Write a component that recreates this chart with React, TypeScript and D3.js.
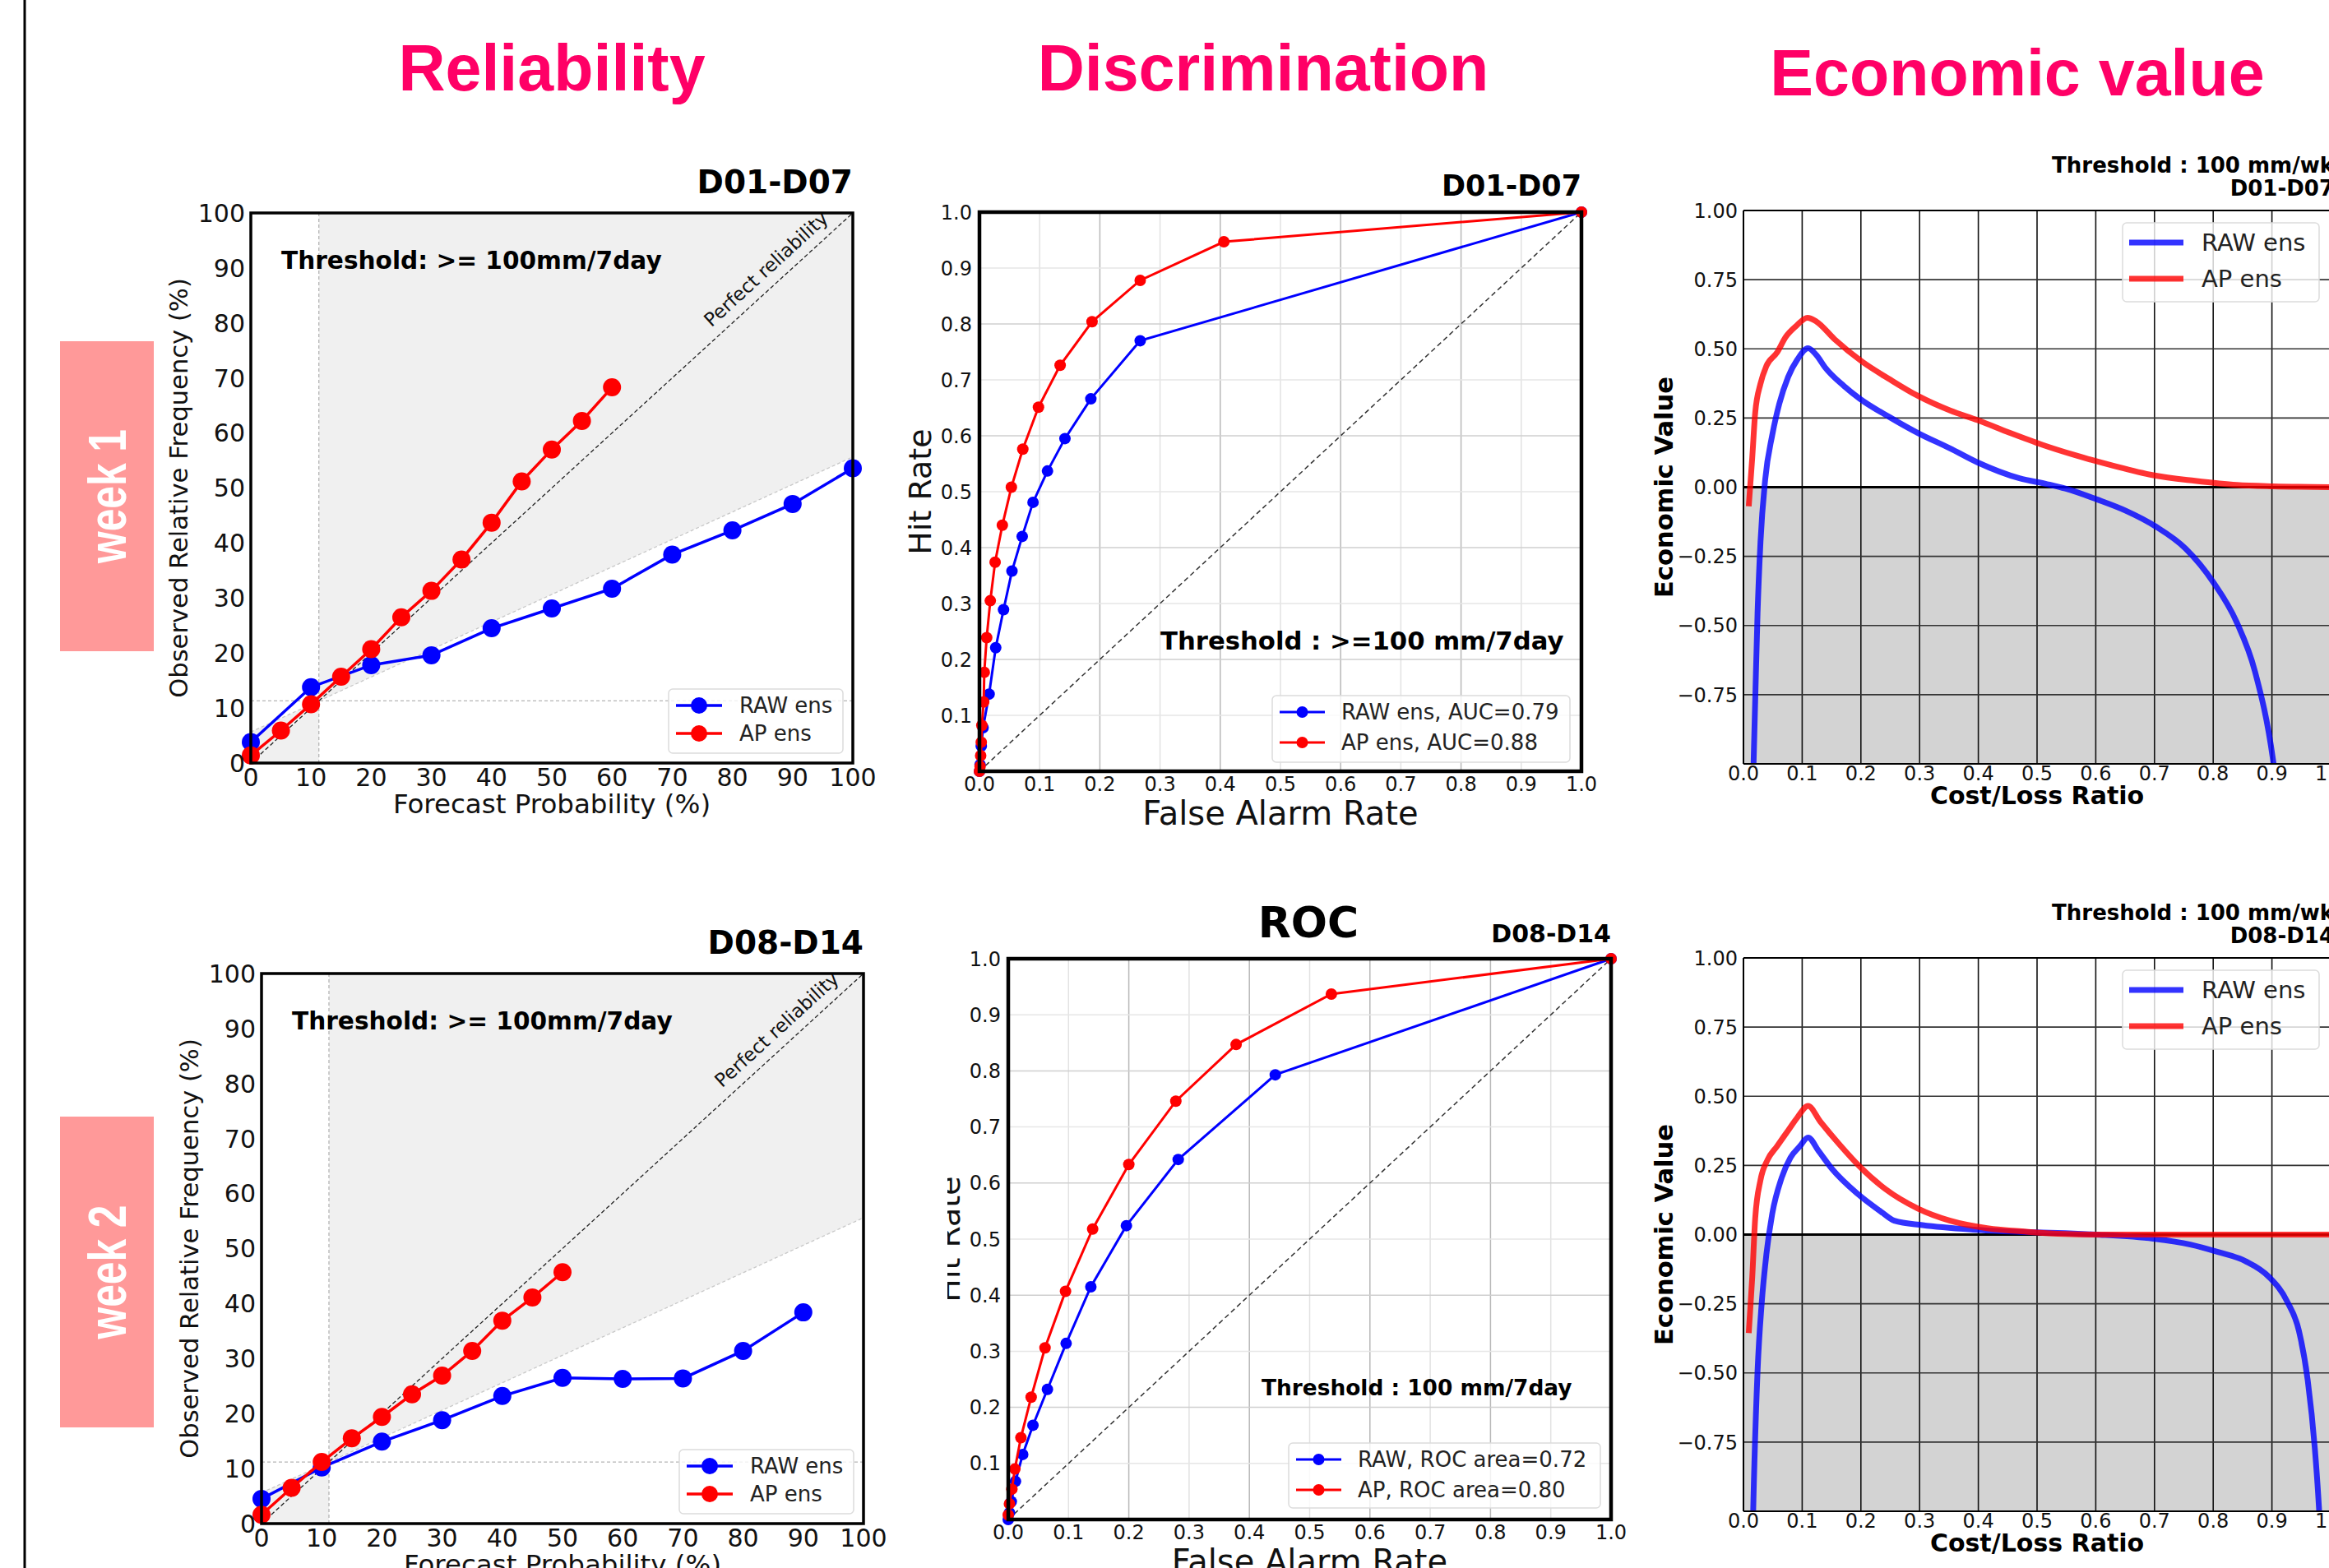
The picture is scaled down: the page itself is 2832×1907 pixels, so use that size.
import React from 'react';
import * as d3 from 'd3';

// ------------------------------------------------------------
// data
// ------------------------------------------------------------
// reliability diagrams : forecast probability (%) -> observed relative frequency (%)
const relW1RawP = [0, 10, 20, 30, 40, 50, 60, 70, 80, 90, 100];
const relW1RawO = [3.8, 13.8, 17.8, 19.6, 24.5, 28.1, 31.7, 37.9, 42.3, 47.1, 53.6];
const relW1ApP = [0, 5, 10, 15, 20, 25, 30, 35, 40, 45, 50, 55, 60];
const relW1ApO = [1.4, 5.9, 10.7, 15.7, 20.7, 26.5, 31.3, 37.0, 43.7, 51.2, 57.0, 62.2, 68.3];
const relW2RawP = [0, 10, 20, 30, 40, 50, 60, 70, 80, 90];
const relW2RawO = [4.5, 10.2, 14.9, 18.8, 23.2, 26.5, 26.3, 26.4, 31.4, 38.4];
const relW2ApP = [0, 5, 10, 15, 20, 25, 30, 35, 40, 45, 50];
const relW2ApO = [1.6, 6.5, 11.2, 15.5, 19.4, 23.5, 26.9, 31.4, 36.9, 41.1, 45.7];
const climW1 = 11.3;
const climW2 = 11.2;

// ROC : false alarm rate -> hit rate
const rocW1RawF = [0, 0.001, 0.003, 0.006, 0.016, 0.027, 0.040, 0.054, 0.071, 0.089, 0.113, 0.142, 0.185, 0.267, 1];
const rocW1RawH = [0, 0.012, 0.045, 0.078, 0.138, 0.221, 0.289, 0.358, 0.420, 0.481, 0.537, 0.595, 0.666, 0.770, 1];
const rocW1ApF = [0, 0.001, 0.002, 0.003, 0.004, 0.007, 0.008, 0.012, 0.018, 0.026, 0.038, 0.053, 0.072, 0.098, 0.134, 0.187, 0.267, 0.406, 1];
const rocW1ApH = [0, 0.009, 0.028, 0.052, 0.082, 0.124, 0.177, 0.239, 0.305, 0.374, 0.440, 0.508, 0.576, 0.651, 0.726, 0.804, 0.878, 0.947, 1];
const rocW2RawF = [0, 0.002, 0.005, 0.012, 0.024, 0.041, 0.065, 0.096, 0.137, 0.196, 0.282, 0.443, 1];
const rocW2RawH = [0, 0.012, 0.032, 0.068, 0.116, 0.168, 0.232, 0.314, 0.415, 0.524, 0.642, 0.793, 1];
const rocW2ApF = [0, 0.002, 0.006, 0.011, 0.021, 0.038, 0.061, 0.095, 0.140, 0.200, 0.278, 0.378, 0.536, 1];
const rocW2ApH = [0.008, 0.028, 0.054, 0.090, 0.146, 0.218, 0.306, 0.407, 0.518, 0.633, 0.746, 0.847, 0.937, 1];

// economic value : cost/loss ratio -> value
const evW1RawC = [0.016, 0.0205, 0.024, 0.029, 0.037, 0.049, 0.061, 0.076, 0.092, 0.110, 0.124, 0.139, 0.171, 0.198, 0.249, 0.297, 0.352, 0.399, 0.470, 0.517, 0.548, 0.603, 0.651, 0.702, 0.753, 0.800, 0.840, 0.871, 0.902, 0.906];
const evW1RawV = [-1.1, -0.73, -0.456, -0.198, 0.027, 0.188, 0.301, 0.398, 0.462, 0.502, 0.478, 0.433, 0.366, 0.320, 0.253, 0.196, 0.140, 0.089, 0.032, 0.011, -0.005, -0.045, -0.085, -0.142, -0.222, -0.343, -0.488, -0.665, -0.987, -1.05];
const evW1ApC = [0.009, 0.015, 0.020, 0.029, 0.039, 0.057, 0.072, 0.090, 0.109, 0.124, 0.155, 0.202, 0.249, 0.297, 0.352, 0.399, 0.454, 0.509, 0.564, 0.627, 0.698, 0.769, 0.840, 0.902, 1.0];
const evW1ApV = [-0.069, 0.108, 0.269, 0.374, 0.438, 0.486, 0.543, 0.583, 0.612, 0.599, 0.535, 0.454, 0.390, 0.330, 0.277, 0.242, 0.196, 0.153, 0.116, 0.079, 0.043, 0.023, 0.008, 0.003, 0.0];
const evW2RawC = [0.0155, 0.017, 0.024, 0.031, 0.039, 0.049, 0.065, 0.080, 0.096, 0.110, 0.128, 0.151, 0.194, 0.234, 0.257, 0.305, 0.391, 0.470, 0.548, 0.600, 0.698, 0.761, 0.808, 0.855, 0.895, 0.926, 0.946, 0.961, 0.973, 0.980, 0.983];
const evW2RawV = [-1.1, -0.96, -0.494, -0.250, -0.072, 0.075, 0.205, 0.278, 0.319, 0.351, 0.302, 0.237, 0.148, 0.083, 0.050, 0.034, 0.018, 0.010, 0.005, 0.0, -0.015, -0.036, -0.063, -0.096, -0.153, -0.242, -0.348, -0.527, -0.771, -0.982, -1.1];
const evW2ApC = [0.009, 0.015, 0.020, 0.029, 0.041, 0.057, 0.076, 0.092, 0.110, 0.131, 0.163, 0.198, 0.242, 0.297, 0.352, 0.415, 0.485, 0.548, 0.596, 1.0];
const evW2ApV = [-0.356, -0.153, 0.059, 0.197, 0.270, 0.319, 0.376, 0.424, 0.465, 0.408, 0.327, 0.246, 0.164, 0.094, 0.050, 0.023, 0.010, 0.002, 0.0, 0.0];

const relTicks = [0, 10, 20, 30, 40, 50, 60, 70, 80, 90, 100];
const rocXTicks = [0, 0.1, 0.2, 0.3, 0.4, 0.5, 0.6, 0.7, 0.8, 0.9, 1.0];
const rocYTicks = [0.1, 0.2, 0.3, 0.4, 0.5, 0.6, 0.7, 0.8, 0.9, 1.0];
const evXTicks = [0, 0.1, 0.2, 0.3, 0.4, 0.5, 0.6, 0.7, 0.8, 0.9, 1.0];
const evYTicks = [-0.75, -0.5, -0.25, 0, 0.25, 0.5, 0.75, 1.0];

const DV = '"DejaVu Sans", Verdana, sans-serif';
const ARIAL = '"Liberation Sans", Arial, sans-serif';
const BLUE = '#0000ff';
const RED = '#ff0000';
const PINK = '#ff0066';

const zip = (a: number[], b: number[]) => a.map((v, i) => [v, b[i]] as [number, number]);
const minus = (s: string) => s.replace('-', '\u2212');

// ------------------------------------------------------------
// legend with marker lines
// ------------------------------------------------------------
function Legend({ box, rows, labels, colors, lineX, markerR, textX, fontSize, lineW, alpha }) {
  const [lx0, lx1, ly0, ly1] = box;
  return (
    <g>
      <rect x={lx0} y={ly0} width={lx1 - lx0} height={ly1 - ly0} rx={5}
        fill="white" fillOpacity={alpha} stroke="#dcdcdc" strokeWidth={1.5} />
      {labels.map((lab, i) => (
        <g key={lab}>
          <line x1={lineX[0]} x2={lineX[1]} y1={rows[i]} y2={rows[i]} stroke={colors[i]} strokeWidth={lineW} />
          {markerR > 0 && <circle cx={(lineX[0] + lineX[1]) / 2} cy={rows[i]} r={markerR} fill={colors[i]} />}
          <text x={textX} y={rows[i]} dy="0.36em" fontFamily={DV} fontSize={fontSize} fill="#222">{lab}</text>
        </g>
      ))}
    </g>
  );
}

// ------------------------------------------------------------
// reliability diagram
// ------------------------------------------------------------
function Reliability({ box, raw, ap, clim, title }) {
  const [x0, x1, y0, y1] = box;
  const x = d3.scaleLinear().domain([0, 100]).range([x0, x1]);
  const y = d3.scaleLinear().domain([0, 100]).range([y1, y0]);
  const noSkill = (p: number) => (p + clim) / 2;
  const line = d3.line<[number, number]>().x(d => x(d[0])).y(d => y(d[1]));
  const skill = `M${x(clim)},${y(100)}L${x(100)},${y(100)}L${x(100)},${y(noSkill(100))}L${x(clim)},${y(clim)}Z` +
    `M${x(0)},${y(0)}L${x(clim)},${y(0)}L${x(clim)},${y(clim)}L${x(0)},${y(noSkill(0))}Z`;
  const ang = Math.atan2(y(0) - y(100), x(100) - x(0)) * 180 / Math.PI;
  const th = ang * Math.PI / 180;
  // label centre sits ~21px off the diagonal, near its upper end
  const tp = [x(87.5) - 21 * Math.sin(th), y(87.5) - 21 * Math.cos(th)];
  return (
    <g>
      <path d={skill} fill="#f0f0f0" />
      <line x1={x(clim)} x2={x(clim)} y1={y(0)} y2={y(100)} stroke="#b5b5b5" strokeWidth={1.3} strokeDasharray="4,3" />
      <line x1={x(0)} x2={x(100)} y1={y(clim)} y2={y(clim)} stroke="#b5b5b5" strokeWidth={1.3} strokeDasharray="4,3" />
      <line x1={x(0)} x2={x(100)} y1={y(noSkill(0))} y2={y(noSkill(100))} stroke="#c8c8c8" strokeWidth={1.3} strokeDasharray="4,3" />
      <line x1={x(0)} x2={x(100)} y1={y(0)} y2={y(100)} stroke="#222" strokeWidth={1.3} strokeDasharray="5,3" />
      <text transform={`translate(${tp[0]},${tp[1]}) rotate(${-ang})`} textAnchor="middle" dy="0.35em"
        fontFamily={DV} fontSize={23} fill="#111">Perfect reliability</text>
      <path d={line(raw)} fill="none" stroke={BLUE} strokeWidth={3.5} />
      {raw.map((d, i) => <circle key={'r' + i} cx={x(d[0])} cy={y(d[1])} r={11} fill={BLUE} />)}
      <path d={line(ap)} fill="none" stroke={RED} strokeWidth={3.5} />
      {ap.map((d, i) => <circle key={'a' + i} cx={x(d[0])} cy={y(d[1])} r={11} fill={RED} />)}
      <rect x={x0} y={y0} width={x1 - x0} height={y1 - y0} fill="none" stroke="#000" strokeWidth={3.5} />
      {relTicks.map(t => (
        <text key={'y' + t} x={x0 - 7} y={y(t)} dy="0.36em" textAnchor="end" fontFamily={DV} fontSize={30} fill="#111">{t}</text>
      ))}
      {relTicks.map(t => (
        <text key={'x' + t} x={x(t)} y={y1 + 28} textAnchor="middle" fontFamily={DV} fontSize={30} fill="#111">{t}</text>
      ))}
      <text x={(x0 + x1) / 2} y={y1 + 61} textAnchor="middle" fontFamily={DV} fontSize={32.5} fill="#111">Forecast Probability (%)</text>
      <text transform={`translate(${x0 - 77},${(y0 + y1) / 2}) rotate(-90)`} textAnchor="middle"
        fontFamily={DV} fontSize={30.6} fill="#111">Observed Relative Frequency (%)</text>
      <text x={x0 + 37} y={y0 + 68} fontFamily={DV} fontWeight="bold" fontSize={29.6} fill="#000">Threshold: &gt;= 100mm/7day</text>
      <text x={x1} y={y0 - 24} textAnchor="end" fontFamily={DV} fontWeight="bold" fontSize={39} fill="#000">{title}</text>
      <Legend box={[x1 - 224, x1 - 12, y1 - 90, y1 - 12]} rows={[y1 - 70, y1 - 36]} labels={['RAW ens', 'AP ens']}
        colors={[BLUE, RED]} lineX={[x1 - 215, x1 - 159]} markerR={10} textX={x1 - 138} fontSize={26} lineW={3.5} alpha={0.8} />
    </g>
  );
}

// ------------------------------------------------------------
// ROC diagram
// ------------------------------------------------------------
function Roc({ box, raw, ap, title, titleSize, threshold, thX, thY, thSize, legendBox, legendLabels, yLabelClip }) {
  const [x0, x1, y0, y1] = box;
  const x = d3.scaleLinear().domain([0, 1]).range([x0, x1]);
  const y = d3.scaleLinear().domain([0, 1]).range([y1, y0]);
  const line = d3.line<[number, number]>().x(d => x(d[0])).y(d => y(d[1]));
  const [lx0, lx1, ly0, ly1] = legendBox;
  const clipId = 'hr' + Math.round(y0);
  return (
    <g>
      {rocXTicks.map(t => {
        const major = Math.round(t * 10) % 2 === 0;
        return <line key={'gx' + t} x1={x(t)} x2={x(t)} y1={y0} y2={y1} stroke={major ? '#b8b8b8' : '#e2e2e2'} strokeWidth={1.5} />;
      })}
      {rocXTicks.map(t => {
        const major = Math.round(t * 10) % 2 === 0;
        return <line key={'gy' + t} x1={x0} x2={x1} y1={y(t)} y2={y(t)} stroke={major ? '#cfcfcf' : '#e6e6e6'} strokeWidth={1.5} />;
      })}
      <line x1={x(0)} x2={x(1)} y1={y(0)} y2={y(1)} stroke="#333" strokeWidth={1.5} strokeDasharray="6,4" />
      <path d={line(raw)} fill="none" stroke={BLUE} strokeWidth={3} />
      {raw.map((d, i) => <circle key={'r' + i} cx={x(d[0])} cy={y(d[1])} r={7} fill={BLUE} />)}
      <path d={line(ap)} fill="none" stroke={RED} strokeWidth={3} />
      {ap.map((d, i) => <circle key={'a' + i} cx={x(d[0])} cy={y(d[1])} r={7} fill={RED} />)}
      <rect x={x0} y={y0} width={x1 - x0} height={y1 - y0} fill="none" stroke="#000" strokeWidth={4.5} />
      {rocYTicks.map(t => (
        <text key={'y' + t} x={x0 - 9} y={y(t)} dy="0.36em" textAnchor="end" fontFamily={DV} fontSize={24} fill="#111">{t.toFixed(1)}</text>
      ))}
      {rocXTicks.map(t => (
        <text key={'x' + t} x={x(t)} y={y1 + 24} textAnchor="middle" fontFamily={DV} fontSize={24} fill="#111">{t.toFixed(1)}</text>
      ))}
      <text x={(x0 + x1) / 2} y={y1 + 65} textAnchor="middle" fontFamily={DV} fontSize={40} fill="#111">False Alarm Rate</text>
      {yLabelClip && (
        <defs><clipPath id={clipId}><rect x={yLabelClip} y={y0} width={x0 - yLabelClip} height={y1 - y0} /></clipPath></defs>
      )}
      <g clipPath={yLabelClip ? `url(#${clipId})` : undefined}>
        <text transform={`translate(${x0 - 59},${(y0 + y1) / 2}) rotate(-90)`} textAnchor="middle"
          fontFamily={DV} fontSize={38} fill="#111">Hit Rate</text>
      </g>
      <text x={thX} y={thY} fontFamily={DV} fontWeight="bold" fontSize={thSize} fill="#000">{threshold}</text>
      <text x={x1} y={y0 - 20} textAnchor="end" fontFamily={DV} fontWeight="bold" fontSize={titleSize} fill="#000">{title}</text>
      <Legend box={legendBox} rows={[ly0 + 20, ly0 + 57]} labels={legendLabels} colors={[BLUE, RED]}
        lineX={[lx0 + 9, lx0 + 64]} markerR={7} textX={lx0 + 84} fontSize={26} lineW={3} alpha={0.8} />
    </g>
  );
}

// ------------------------------------------------------------
// economic value diagram
// ------------------------------------------------------------
function EconValue({ box, raw, ap, title }) {
  const [x0, x1, y0, y1] = box;
  const x = d3.scaleLinear().domain([0, 1]).range([x0, x1]);
  const y = d3.scaleLinear().domain([-1, 1]).range([y1, y0]);
  const line = d3.line<[number, number]>().x(d => x(d[0])).y(d => y(d[1])).curve(d3.curveMonotoneX);
  const clipId = 'ev' + Math.round(y0);
  return (
    <g>
      <defs><clipPath id={clipId}><rect x={x0} y={y0} width={x1 - x0} height={y1 - y0} /></clipPath></defs>
      <rect x={x0} y={y(0)} width={x1 - x0} height={y1 - y(0)} fill="#d3d3d3" />
      {evXTicks.map(t => <line key={'gx' + t} x1={x(t)} x2={x(t)} y1={y0} y2={y1} stroke="#111" strokeWidth={1.6} />)}
      {evYTicks.filter(t => t !== 0).map(t => <line key={'gy' + t} x1={x0} x2={x1} y1={y(t)} y2={y(t)} stroke="#333" strokeWidth={1.6} />)}
      <line x1={x0} x2={x1} y1={y(0)} y2={y(0)} stroke="#000" strokeWidth={3} />
      <g clipPath={`url(#${clipId})`}>
        <path d={line(raw)} fill="none" stroke={BLUE} strokeOpacity={0.8} strokeWidth={7} strokeLinejoin="round" />
        <path d={line(ap)} fill="none" stroke={RED} strokeOpacity={0.8} strokeWidth={7} strokeLinejoin="round" />
      </g>
      <line x1={x0} x2={x1} y1={y0} y2={y0} stroke="#000" strokeWidth={2} />
      <line x1={x0} x2={x1} y1={y1} y2={y1} stroke="#000" strokeWidth={2} />
      <line x1={x0} x2={x0} y1={y0} y2={y1} stroke="#000" strokeWidth={2} />
      {evYTicks.map(t => (
        <text key={'y' + t} x={x0 - 7} y={y(t)} dy="0.36em" textAnchor="end" fontFamily={DV} fontSize={24} fill="#111">{minus(t.toFixed(2))}</text>
      ))}
      {evXTicks.map(t => (
        <text key={'x' + t} x={x(t)} y={y1 + 20} textAnchor="middle" fontFamily={DV} fontSize={24} fill="#111">{t.toFixed(1)}</text>
      ))}
      <text x={(x0 + x1) / 2} y={y1 + 49} textAnchor="middle" fontFamily={DV} fontWeight="bold" fontSize={30} fill="#000">Cost/Loss Ratio</text>
      <text transform={`translate(${x0 - 86},${(y0 + y1) / 2}) rotate(-90)`} textAnchor="middle"
        fontFamily={DV} fontWeight="bold" fontSize={30.5} fill="#000">Economic Value</text>
      <text x={x1 + 4} y={y0 - 46} textAnchor="end" fontFamily={DV} fontWeight="bold" fontSize={26} fill="#000">Threshold : 100 mm/wk</text>
      <text x={x1 + 4} y={y0 - 18} textAnchor="end" fontFamily={DV} fontWeight="bold" fontSize={26} fill="#000">{title}</text>
      <Legend box={[x0 + 461, x0 + 700, y0 + 15, y0 + 111]} rows={[y0 + 39, y0 + 83]} labels={['RAW ens', 'AP ens']}
        colors={['rgba(0,0,255,0.8)', 'rgba(255,0,0,0.8)']} lineX={[x0 + 469, x0 + 535]} markerR={0} textX={x0 + 557}
        fontSize={29} lineW={7} alpha={0.8} />
    </g>
  );
}

function WeekTag({ top, bottom, label }) {
  const cy = (top + bottom) / 2;
  return (
    <g>
      <rect x={73} y={top} width={114} height={bottom - top} fill="#ff9999" />
      <text transform={`translate(130,${cy}) rotate(-90)`} textAnchor="middle" dy="0.36em"
        fontFamily={ARIAL} fontWeight="bold" fontSize={64} fill="#fff"
        textLength={163} lengthAdjust="spacingAndGlyphs">{label}</text>
    </g>
  );
}

export default function App() {
  return (
    <svg width={2832} height={1907} style={{ position: 'absolute', left: 0, top: 0, background: '#fff' }}>
      <rect x={0} y={0} width={2832} height={1907} fill="#fff" />
      <line x1={30} x2={30} y1={0} y2={1907} stroke="#000" strokeWidth={3} />

      <text x={671} y={110} textAnchor="middle" fontFamily={ARIAL} fontWeight="bold" fontSize={79} fill={PINK}>Reliability</text>
      <text x={1536} y={110} textAnchor="middle" fontFamily={ARIAL} fontWeight="bold" fontSize={79} fill={PINK}>Discrimination</text>
      <text x={2453} y={116} textAnchor="middle" fontFamily={ARIAL} fontWeight="bold" fontSize={79} fill={PINK}>Economic value</text>

      <WeekTag top={415} bottom={792} label="week 1" />
      <WeekTag top={1358} bottom={1736} label="week 2" />

      <Reliability box={[305, 1037, 259, 928]} raw={zip(relW1RawP, relW1RawO)} ap={zip(relW1ApP, relW1ApO)}
        clim={climW1} title="D01-D07" />
      <Reliability box={[318, 1050, 1184, 1853]} raw={zip(relW2RawP, relW2RawO)} ap={zip(relW2ApP, relW2ApO)}
        clim={climW2} title="D08-D14" />

      <Roc box={[1191, 1923, 258, 938]} raw={zip(rocW1RawF, rocW1RawH)} ap={zip(rocW1ApF, rocW1ApH)}
        title="D01-D07" titleSize={35} threshold="Threshold : >=100 mm/7day" thX={1411} thY={790} thSize={30.7}
        legendBox={[1547, 1909, 846, 927]} legendLabels={['RAW ens, AUC=0.79', 'AP ens, AUC=0.88']} yLabelClip={null} />
      <Roc box={[1226, 1959, 1166, 1848]} raw={zip(rocW2RawF, rocW2RawH)} ap={zip(rocW2ApF, rocW2ApH)}
        title="D08-D14" titleSize={30} threshold="Threshold : 100 mm/7day" thX={1534} thY={1697} thSize={26.4}
        legendBox={[1567, 1946, 1755, 1834]} legendLabels={['RAW, ROC area=0.72', 'AP, ROC area=0.80']} yLabelClip={1152} />
      <text x={1591} y={1140} textAnchor="middle" fontFamily={DV} fontWeight="bold" fontSize={52} fill="#000">ROC</text>

      <EconValue box={[2120, 2834, 256, 929]} raw={zip(evW1RawC, evW1RawV)} ap={zip(evW1ApC, evW1ApV)} title="D01-D07" />
      <EconValue box={[2120, 2834, 1165, 1838]} raw={zip(evW2RawC, evW2RawV)} ap={zip(evW2ApC, evW2ApV)} title="D08-D14" />
    </svg>
  );
}
